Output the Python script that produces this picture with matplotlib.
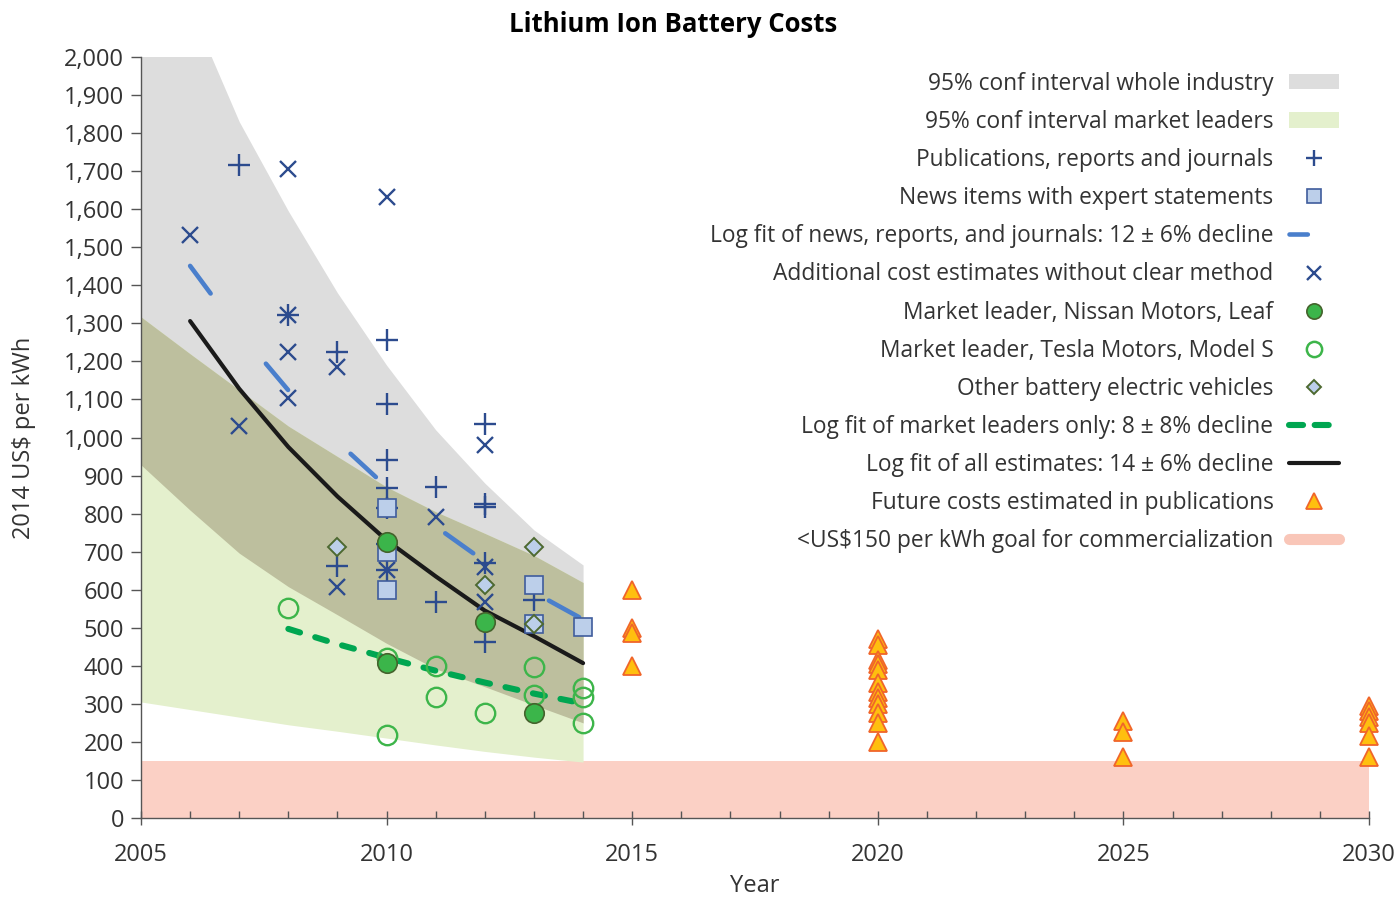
import matplotlib
matplotlib.use("Agg")
import matplotlib.pyplot as plt
from matplotlib.patches import Patch
from matplotlib.lines import Line2D
from matplotlib.ticker import FuncFormatter, MultipleLocator

# ---------------- data ----------------
band_years = [2005, 2006, 2007, 2008, 2009, 2010, 2011, 2012, 2013, 2014]
industry_hi = [2450, 2130, 1830, 1595, 1380, 1190, 1020, 880, 757, 665]
industry_lo = [928, 809, 696, 608, 534, 459, 392, 345, 297, 250]
leaders_hi = [1317, 1220, 1125, 1030, 950, 870, 805, 748, 690, 619]
leaders_lo = [305, 285, 265, 245, 228, 210, 192, 175, 160, 147]

fit_all_years = [2006, 2007, 2008, 2009, 2010, 2011, 2012, 2013, 2014]
fit_all = [1306, 1128, 975, 845, 730, 635, 545, 478, 407]
fit_news_years = [2006, 2007, 2008, 2009, 2010, 2011, 2012, 2013, 2014]
fit_news = [1451, 1277, 1124, 989, 870, 766, 674, 593, 522]
fit_leaders_years = [2008, 2009, 2010, 2011, 2012, 2013, 2014]
fit_leaders = [497, 457, 421, 387, 356, 327, 301]

pub_years = [2007, 2008, 2009, 2009, 2010, 2010, 2010, 2010, 2010, 2010, 2010,
             2011, 2011, 2012, 2012, 2012, 2012, 2012, 2013]
pub_vals = [1716, 1322, 1225, 662, 1256, 1088, 941, 867, 815, 720, 652,
            870, 568, 1035, 825, 817, 670, 463, 573]

news_years = [2010, 2010, 2010, 2013, 2013, 2014]
news_vals = [815, 700, 600, 612, 510, 502]

extra_years = [2006, 2007, 2008, 2008, 2008, 2008, 2009, 2009, 2010, 2010,
               2011, 2012, 2012, 2012]
extra_vals = [1532, 1030, 1706, 1322, 1225, 1104, 1185, 607, 1632, 652,
              791, 980, 660, 568]

nissan_years = [2010, 2010, 2012, 2013]
nissan_vals = [725, 407, 515, 276]

tesla_years = [2008, 2010, 2010, 2011, 2011, 2012, 2013, 2013, 2014, 2014, 2014]
tesla_vals = [552, 420, 218, 400, 318, 275, 397, 323, 341, 318, 250]

bev_years = [2009, 2012, 2013, 2013]
bev_vals = [712, 612, 712, 510]

future_years = [2015, 2015, 2015, 2015,
                2020, 2020, 2020, 2020, 2020, 2020, 2020, 2020, 2020, 2020, 2020, 2020,
                2025, 2025, 2025,
                2030, 2030, 2030, 2030, 2030, 2030]
future_vals = [600, 500, 485, 400,
               470, 455, 415, 405, 390, 355, 330, 315, 300, 275, 250, 200,
               255, 225, 160,
               295, 280, 265, 250, 215, 160]

goal_years = [2005, 2030]
goal_val = 150

legend_labels = [
    "95% conf interval whole industry",
    "95% conf interval market leaders",
    "Publications, reports and journals",
    "News items with expert statements",
    "Log fit of news, reports, and journals: 12 \u00b1 6% decline",
    "Additional cost estimates without clear method",
    "Market leader, Nissan Motors, Leaf",
    "Market leader, Tesla Motors, Model S",
    "Other battery electric vehicles",
    "Log fit of market leaders only: 8 \u00b1 8% decline",
    "Log fit of all estimates: 14 \u00b1 6% decline",
    "Future costs estimated in publications",
    "<US$150 per kWh goal for commercialization",
]

# ---------------- style ----------------
FONT = ["Open Sans", "DejaVu Sans"]
plt.rcParams["font.family"] = FONT
TXT = "#333333"

C_GRAY = "#dddddd"
C_GREEN = "#e4f0cd"
C_OLIVE = "#bdbf9e"
C_PINK = "#fbd0c5"
C_BLUE = "#2c4b8e"
C_FITBLUE = "#4a7fcc"
C_SQ_FACE = "#bccfea"
C_SQ_EDGE = "#3f5c9c"
C_NISSAN = "#3bb54a"
C_NISSAN_EDGE = "#44632c"
C_TESLA = "#3db54a"
C_BEV_EDGE = "#4d6930"
C_TRI_FACE = "#ffbf0f"
C_TRI_EDGE = "#f0652a"
C_GFIT = "#00a651"

fig = plt.figure(figsize=(13.98, 8.98), dpi=100)
ax = fig.add_axes([141 / 1398, 1 - 818 / 898, 1228 / 1398, 761 / 898])

# bands
ax.fill_between(goal_years, 0, goal_val, color=C_PINK, lw=0, zorder=1)
ax.fill_between(band_years, industry_lo, industry_hi, color=C_GRAY, lw=0, zorder=1)
ax.fill_between(band_years, leaders_lo, leaders_hi, color=C_GREEN, lw=0, zorder=1)
ax.fill_between(band_years, industry_lo, leaders_hi, color=C_OLIVE, lw=0, zorder=1)

# fit lines
ax.plot(fit_news_years, fit_news, color=C_FITBLUE, lw=3.3, dashes=(7.5, 19.5),
        dash_capstyle="round", zorder=3)
ax.plot(fit_all_years, fit_all, color="#1a1a1a", lw=3.0, solid_capstyle="round", zorder=3)
ax.plot(fit_leaders_years, fit_leaders, color=C_GFIT, lw=4.4, dashes=(2.0, 2.6),
        dash_capstyle="round", zorder=3)

# markers
ax.plot(tesla_years, tesla_vals, ls="none", marker="o", ms=14, mfc="none",
        mec=C_TESLA, mew=1.7, zorder=4)
ax.plot(extra_years, extra_vals, ls="none", marker="x", ms=12, mec=C_BLUE,
        mew=1.7, zorder=5)
ax.plot(pub_years, pub_vals, ls="none", marker="+", ms=16, mec=C_BLUE,
        mew=1.7, zorder=5)
ax.plot(news_years, news_vals, ls="none", marker="s", ms=13.5, mfc=C_SQ_FACE,
        mec=C_SQ_EDGE, mew=1.2, zorder=6)
ax.plot(nissan_years, nissan_vals, ls="none", marker="o", ms=14, mfc=C_NISSAN,
        mec=C_NISSAN_EDGE, mew=1.2, zorder=7)
ax.plot(bev_years, bev_vals, ls="none", marker="D", ms=9, mfc=C_SQ_FACE,
        mec=C_BEV_EDGE, mew=1.4, zorder=8)
ax.plot(future_years, future_vals, ls="none", marker="^", ms=13.5, mfc=C_TRI_FACE,
        mec=C_TRI_EDGE, mew=1.3, zorder=8, clip_on=False)

# axes
ax.set_xlim(2005, 2030)
ax.set_ylim(0, 2000)
ax.yaxis.set_major_locator(MultipleLocator(100))
ax.xaxis.set_major_locator(MultipleLocator(5))
ax.xaxis.set_minor_locator(MultipleLocator(1))
ax.yaxis.set_major_formatter(FuncFormatter(lambda v, p: f"{int(v):,}"))
for s in ["top", "right"]:
    ax.spines[s].set_visible(False)
for s in ["left", "bottom"]:
    ax.spines[s].set_color("#555555")
    ax.spines[s].set_linewidth(1.0)
    ax.spines[s].set_zorder(10)
ax.tick_params(axis="y", which="major", direction="out", length=7, width=1,
               color="#555555", labelsize=17, labelcolor=TXT, pad=5)
ax.tick_params(axis="x", which="major", direction="inout", length=10, width=1,
               color="#555555", labelsize=17, labelcolor=TXT, pad=13)
ax.tick_params(axis="x", which="minor", direction="in", length=5, width=1,
               color="#555555")
ax.set_xlabel("Year", fontsize=17, color=TXT, labelpad=5)
ax.set_ylabel("2014 US$ per kWh", fontsize=17, color=TXT, labelpad=20)

fig.text(673 / 1398, 1 - 24 / 898, "Lithium Ion Battery Costs", ha="center", va="center",
         fontsize=18.5, fontweight="bold", color="black")

# legend
handles = [
    Patch(facecolor=C_GRAY, edgecolor="none"),
    Patch(facecolor=C_GREEN, edgecolor="none"),
    Line2D([], [], ls="none", marker="+", ms=11, mec=C_BLUE, mew=1.7),
    Line2D([], [], ls="none", marker="s", ms=10, mfc=C_SQ_FACE, mec=C_SQ_EDGE, mew=1.2),
    Line2D([], [], color=C_FITBLUE, lw=3.3, dashes=(4.0, 20), dash_capstyle="round"),
    Line2D([], [], ls="none", marker="x", ms=10, mec=C_BLUE, mew=1.7),
    Line2D([], [], ls="none", marker="o", ms=11, mfc=C_NISSAN, mec=C_NISSAN_EDGE, mew=1.2),
    Line2D([], [], ls="none", marker="o", ms=11, mfc="none", mec=C_TESLA, mew=1.8),
    Line2D([], [], ls="none", marker="D", ms=7.5, mfc=C_SQ_FACE, mec=C_BEV_EDGE, mew=1.4),
    Line2D([], [], color=C_GFIT, lw=4.4, dashes=(2.3, 1.9), dash_capstyle="round"),
    Line2D([], [], color="#1a1a1a", lw=3.0, solid_capstyle="round"),
    Line2D([], [], ls="none", marker="^", ms=11, mfc=C_TRI_FACE, mec=C_TRI_EDGE, mew=1.3),
    Line2D([], [], color="#f9c6b8", lw=8, solid_capstyle="round"),
]
leg = ax.legend(handles, legend_labels, loc="upper right", bbox_to_anchor=(0.988, 1.0),
                markerfirst=False, frameon=False, fontsize=16.4, labelspacing=0.62,
                handlelength=2.2, handleheight=0.65, handletextpad=0.7,
                borderaxespad=0.25, labelcolor=TXT)

fig.savefig("out.png", dpi=100)
